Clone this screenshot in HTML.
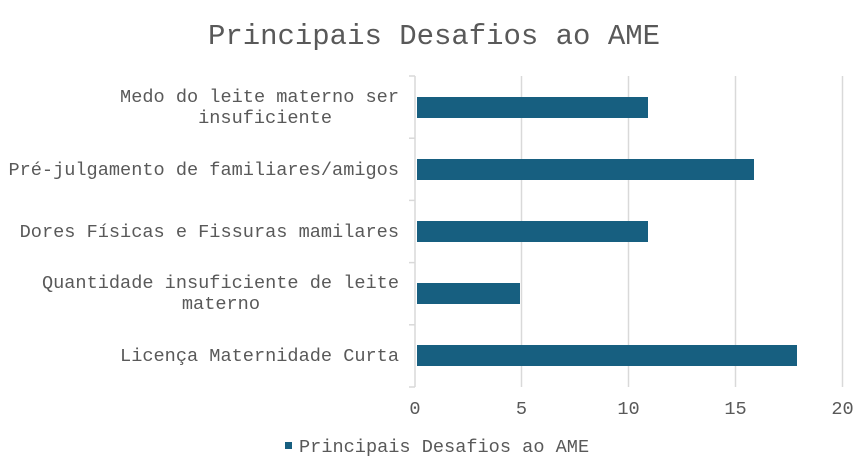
<!DOCTYPE html>
<html><head><meta charset="utf-8"><style>body{margin:0;background:#fff}svg{display:block}</style></head><body>
<svg width="862" height="463" xmlns="http://www.w3.org/2000/svg" font-family="Liberation Mono, monospace" fill="#595959">
<text x="434" y="44" font-size="29" text-anchor="middle" textLength="452">Principais Desafios ao AME</text>
<g stroke="#d9d9d9" stroke-width="1.5">
<line x1="521.5" y1="76" x2="521.5" y2="387"/>
<line x1="628.5" y1="76" x2="628.5" y2="387"/>
<line x1="735.5" y1="76" x2="735.5" y2="387"/>
<line x1="842.5" y1="76" x2="842.5" y2="387"/>
<line x1="415" y1="76" x2="415" y2="387"/>
<line x1="409" y1="76" x2="415" y2="76"/>
<line x1="409" y1="138.2" x2="415" y2="138.2"/>
<line x1="409" y1="200.4" x2="415" y2="200.4"/>
<line x1="409" y1="262.6" x2="415" y2="262.6"/>
<line x1="409" y1="324.8" x2="415" y2="324.8"/>
<line x1="409" y1="387" x2="415" y2="387"/>
</g>
<g fill="#175f80">
<rect x="417" y="97" width="231" height="21"/>
<rect x="417" y="159" width="337" height="21"/>
<rect x="417" y="221" width="231" height="21"/>
<rect x="417" y="283" width="103" height="21"/>
<rect x="417" y="345" width="380" height="21"/>
</g>
<g font-size="18.6" text-anchor="end">
<text x="399" y="102">Medo do leite materno ser</text>
<text x="332" y="123">insuficiente</text>
<text x="399" y="175">Pré-julgamento de familiares/amigos</text>
<text x="399" y="237">Dores Físicas e Fissuras mamilares</text>
<text x="399" y="288">Quantidade insuficiente de leite</text>
<text x="260" y="309">materno</text>
<text x="399" y="361">Licença Maternidade Curta</text>
</g>
<g font-size="18.6" text-anchor="middle">
<text x="415" y="414">0</text>
<text x="521.5" y="414">5</text>
<text x="628.5" y="414">10</text>
<text x="735.5" y="414">15</text>
<text x="842.5" y="414">20</text>
</g>
<rect x="285" y="442" width="7" height="7" fill="#175f80"/>
<text x="299" y="452" font-size="18.6">Principais Desafios ao AME</text>
</svg>
</body></html>
